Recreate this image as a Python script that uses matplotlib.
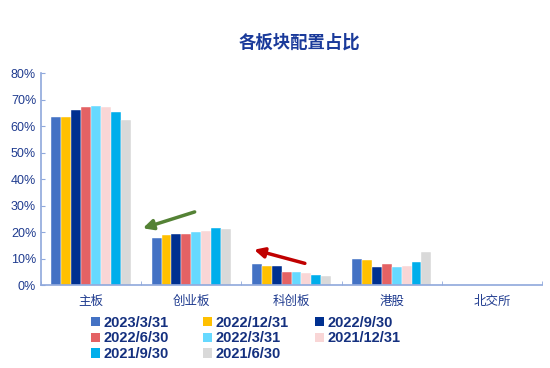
import numpy as np
import matplotlib
matplotlib.use("Agg")
import matplotlib.pyplot as plt
from matplotlib.patches import Patch

plt.rcParams["font.family"] = ["Liberation Sans", "Noto Sans CJK SC", "DejaVu Sans"]

# ── data ──────────────────────────────────────────────────────────────────────
categories = ["主板", "创业板", "科创板", "港股", "北交所"]
series_labels = ["2023/3/31", "2022/12/31", "2022/9/30", "2022/6/30",
                 "2022/3/31", "2021/12/31", "2021/9/30", "2021/6/30"]
# percent share per category, one list per date
values = [
    [63.5, 17.9, 8.1, 9.7, 0.1],   # 2023/3/31
    [63.5, 19.0, 7.1, 9.6, 0.1],   # 2022/12/31
    [66.0, 19.3, 7.1, 6.9, 0.1],   # 2022/9/30
    [67.2, 19.3, 5.1, 7.9, 0.1],   # 2022/6/30
    [67.5, 20.0, 5.0, 6.8, 0.1],   # 2022/3/31
    [67.2, 20.5, 4.4, 7.0, 0.1],   # 2021/12/31
    [65.3, 21.4, 3.9, 8.7, 0.1],   # 2021/9/30
    [62.3, 21.3, 3.4, 12.3, 0.0],  # 2021/6/30
]
y_ticks = [0, 10, 20, 30, 40, 50, 60, 70, 80]

# ── style ─────────────────────────────────────────────────────────────────────
COLORS = ["#4472C4", "#FFC000", "#003090", "#E46264",
          "#66D9FF", "#F9D6D6", "#00AEEB", "#D9D9D9"]
TEXT_COLOR = "#1F3B8F"
LEGEND_COLOR = "#14307F"
AXIS_COLOR = "#8FA8DC"

fig = plt.figure(figsize=(5.5, 3.68), dpi=100, facecolor="white")
ax = fig.add_axes([0.0745, 0.2255, 0.911, 0.576])

n_series = len(series_labels)
bar_w = 0.099
x = np.arange(len(categories))
for i, (vals, col) in enumerate(zip(values, COLORS)):
    offs = (i - (n_series - 1) / 2) * bar_w
    ax.bar(x + offs, vals, width=bar_w, color=col, edgecolor="white",
           linewidth=0.3, zorder=2)

ax.set_xlim(-0.5, len(categories) - 0.5)
ax.set_ylim(0, 80)
ax.set_yticks(y_ticks)
ax.set_yticklabels([f"{t}%" for t in y_ticks])
ax.set_xticks(x)
ax.set_xticklabels(categories)
ax.set_xticks(np.arange(len(categories) + 1) - 0.5, minor=True)
ax.tick_params(axis="x", which="major", length=0, pad=8, labelsize=9,
               labelcolor=TEXT_COLOR)
ax.tick_params(axis="x", which="minor", length=3, direction="in",
               color=AXIS_COLOR)
ax.tick_params(axis="y", length=3, direction="in", color=AXIS_COLOR,
               labelsize=9, labelcolor=TEXT_COLOR)

for s in ["top", "right"]:
    ax.spines[s].set_visible(False)
for s in ["left", "bottom"]:
    ax.spines[s].set_color(AXIS_COLOR)
    ax.spines[s].set_linewidth(1.2)

# ── arrows ────────────────────────────────────────────────────────────────────
ax.annotate("", xy=(0.49, 21.1), xytext=(1.06, 27.9),
            arrowprops=dict(arrowstyle="-|>,head_length=0.6,head_width=0.3",
                            color="#548235", lw=2.5), zorder=5)
ax.annotate("", xy=(1.6, 13.6), xytext=(2.16, 7.9),
            arrowprops=dict(arrowstyle="-|>,head_length=0.6,head_width=0.3",
                            color="#C00000", lw=2.5), zorder=5)

# ── title ─────────────────────────────────────────────────────────────────────
fig.text(0.545, 0.885, "各板块配置占比", ha="center", va="center",
         fontsize=12.5, fontweight="bold", color="#1A3A9A")

# ── legend: three fixed-width columns, filled row by row ─────────────────────
handles = [Patch(facecolor=c, edgecolor="none", label=l)
           for c, l in zip(COLORS, series_labels)]
col_x = [91 / 550, 203 / 550, 315 / 550]
for c, x0 in enumerate(col_x):
    leg = fig.legend(handles=handles[c::3], loc="upper left",
                     bbox_to_anchor=(x0, 0.142), frameon=False,
                     prop={"weight": "bold", "size": 10.5},
                     handlelength=0.65, handleheight=0.65, handletextpad=0.2,
                     labelspacing=0.12, borderaxespad=0, borderpad=0)
    for t in leg.get_texts():
        t.set_color(LEGEND_COLOR)

fig.savefig("out.png", dpi=100, facecolor="white")
